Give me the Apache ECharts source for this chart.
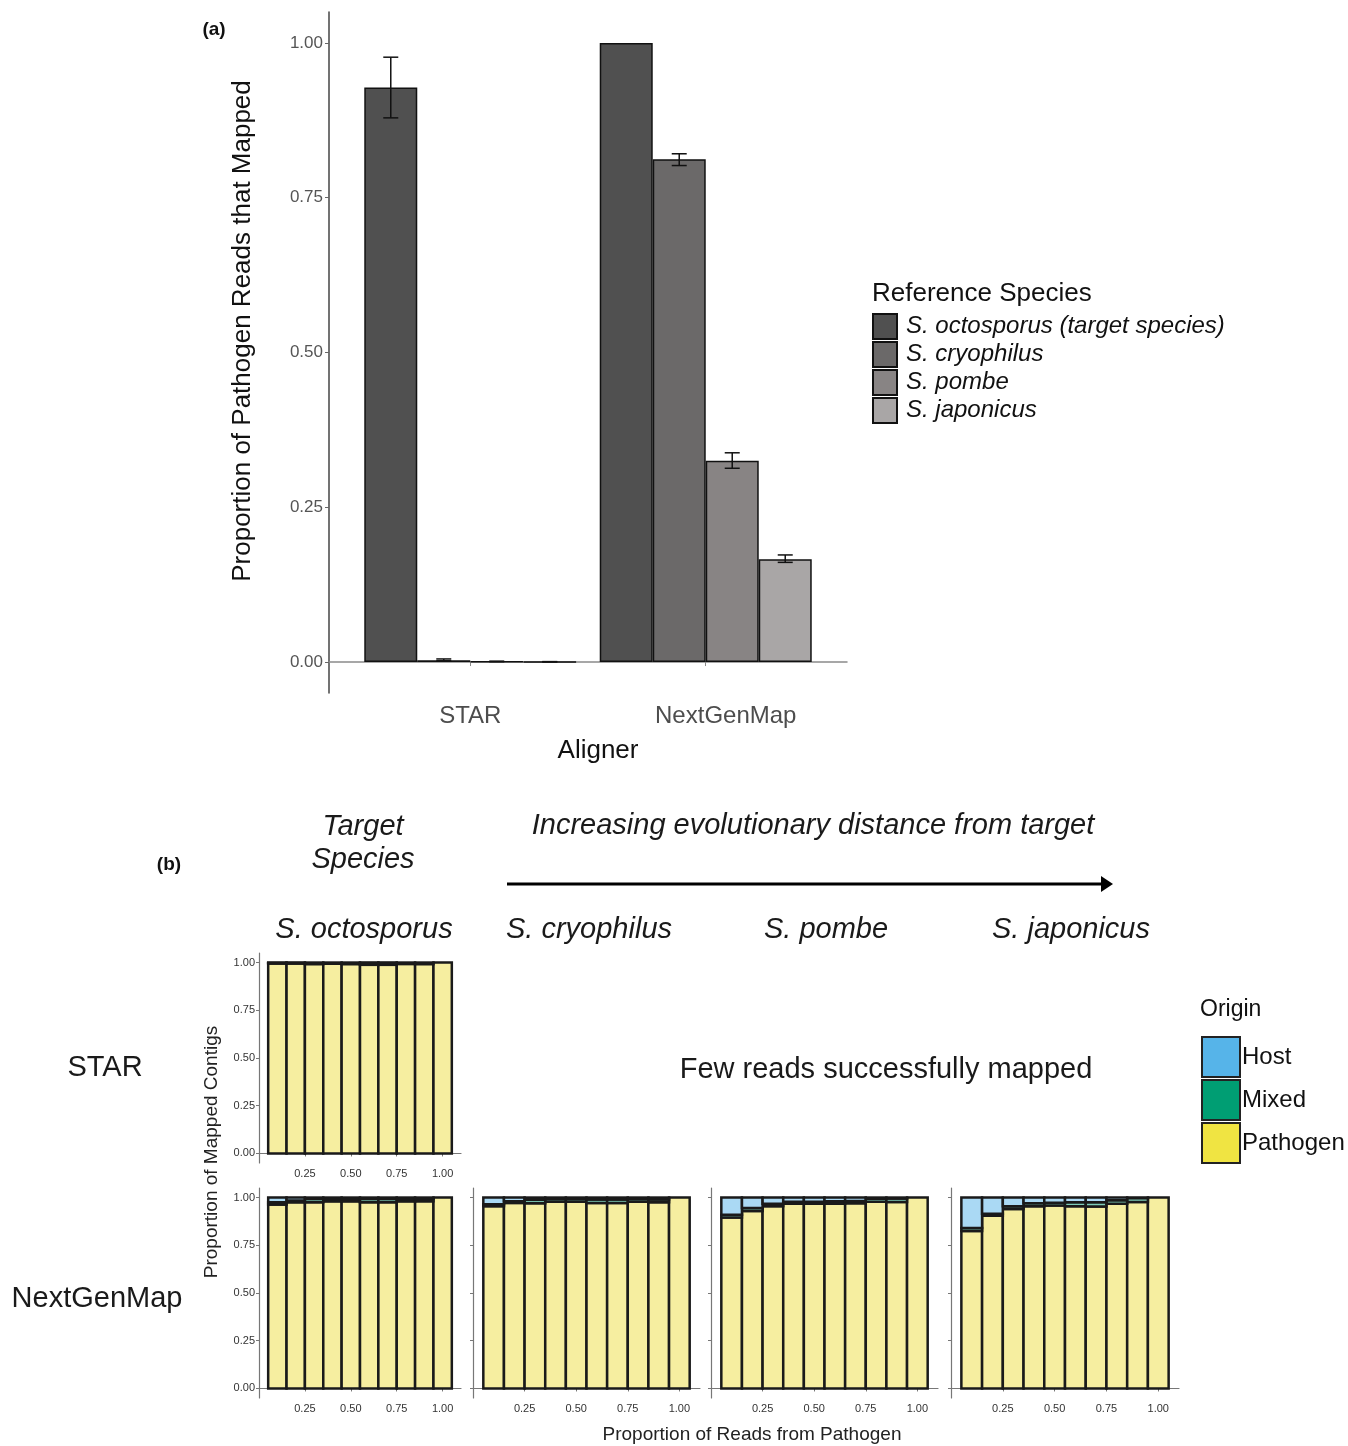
<!DOCTYPE html>
<html>
<head>
<meta charset="utf-8">
<title>Mapped reads by aligner and reference species</title>
<script src="https://cdn.jsdelivr.net/npm/echarts@6/dist/echarts.min.js"></script>
<style>
  body { margin: 0; background: #fff; }
  #chart { width: 1348px; height: 1446px; }
</style>
</head>
<body>
<div id="chart"></div>
<script>
// (a) proportion of pathogen reads that mapped
const aligners = ['STAR', 'NextGenMap'];
const species = ['S. octosporus (target species)', 'S. cryophilus', 'S. pombe', 'S. japonicus'];
const starMean = [0.928, 0.003, 0.001, 0.0005];
const starLow = [0.879, 0.002, 0.0006, 0.0003];
const starHigh = [0.977, 0.005, 0.0014, 0.0007];
const ngmMean = [1.0, 0.812, 0.325, 0.166];
const ngmLow = [1.0, 0.802, 0.313, 0.161];
const ngmHigh = [1.0, 0.821, 0.338, 0.173];
const yTicksA = [0, 0.25, 0.5, 0.75, 1];

// (b) origin of mapped contigs
const readProps = [0.1, 0.2, 0.3, 0.4, 0.5, 0.6, 0.7, 0.8, 0.9, 1.0];
const xTicksB = [0.25, 0.5, 0.75, 1];
const yTicksB = [0, 0.25, 0.5, 0.75, 1];
const origins = ['Host', 'Mixed', 'Pathogen'];

const starOctoPath = [0.995, 0.995, 0.992, 0.994, 0.992, 0.988, 0.988, 0.993, 0.992, 1.0];
const starOctoMixed = [0.003, 0.003, 0.008, 0.006, 0.008, 0.010, 0.010, 0.007, 0.008, 0];
const starOctoHost = [0.002, 0.002, 0, 0, 0, 0.002, 0.002, 0, 0, 0];

const ngmOctoPath = [0.963, 0.975, 0.975, 0.980, 0.980, 0.975, 0.975, 0.980, 0.980, 1.0];
const ngmOctoMixed = [0.012, 0.010, 0.018, 0.012, 0.012, 0.018, 0.018, 0.012, 0.014, 0];
const ngmOctoHost = [0.025, 0.015, 0.007, 0.008, 0.008, 0.007, 0.007, 0.008, 0.006, 0];

const ngmCryoPath = [0.955, 0.972, 0.970, 0.978, 0.978, 0.972, 0.972, 0.978, 0.975, 1.0];
const ngmCryoMixed = [0.010, 0.008, 0.018, 0.015, 0.015, 0.018, 0.018, 0.015, 0.015, 0];
const ngmCryoHost = [0.035, 0.020, 0.012, 0.007, 0.007, 0.010, 0.010, 0.007, 0.010, 0];

const ngmPombePath = [0.895, 0.930, 0.955, 0.968, 0.968, 0.968, 0.970, 0.978, 0.977, 1.0];
const ngmPombeMixed = [0.015, 0.015, 0.012, 0.010, 0.010, 0.012, 0.012, 0.016, 0.018, 0];
const ngmPombeHost = [0.090, 0.055, 0.033, 0.022, 0.022, 0.020, 0.018, 0.006, 0.005, 0];

const ngmJapPath = [0.825, 0.905, 0.940, 0.955, 0.958, 0.955, 0.953, 0.968, 0.977, 1.0];
const ngmJapMixed = [0.015, 0.010, 0.015, 0.015, 0.015, 0.020, 0.022, 0.018, 0.020, 0];
const ngmJapHost = [0.160, 0.085, 0.045, 0.030, 0.027, 0.025, 0.025, 0.014, 0.003, 0];

const speciesColors = ['#505050', '#6b6969', '#888484', '#a9a6a6'];
const originColors = { Host: '#56B4E9', Mixed: '#009E73', Pathogen: '#F0E442' };
const originFill = { Host: '#AAD9F4', Mixed: '#7FCEB9', Pathogen: '#F6EEA0' };

const FONT = '"Liberation Sans", Arial, Helvetica, sans-serif';
const BAR_A = 53;

// small panels of (b): grid rectangles + the arrays drawn in each
const panels = [
  { left: 259, top: 953, width: 202, labels: true, path: starOctoPath, mixed: starOctoMixed, host: starOctoHost },
  { left: 259, top: 1188, width: 202, labels: true, path: ngmOctoPath, mixed: ngmOctoMixed, host: ngmOctoHost },
  { left: 473, top: 1188, width: 227, labels: false, path: ngmCryoPath, mixed: ngmCryoMixed, host: ngmCryoHost },
  { left: 711, top: 1188, width: 227, labels: false, path: ngmPombePath, mixed: ngmPombeMixed, host: ngmPombeHost },
  { left: 951, top: 1188, width: 228, labels: false, path: ngmJapPath, mixed: ngmJapMixed, host: ngmJapHost }
];

const grids = [{ left: 329, top: 12, width: 518, height: 681, outerBoundsMode: 'none' }];
const xAxes = [{
  type: 'value', gridIndex: 0, min: 0.4, max: 2.6,
  splitLine: { show: false },
  axisLine: { lineStyle: { color: '#8a8a8a', width: 1.5 } },
  axisTick: { customValues: [1, 2], length: 4, lineStyle: { color: '#8a8a8a' } },
  axisLabel: {
    customValues: [1, 2], margin: 11, fontSize: 24, fontFamily: FONT, color: '#4d4d4d',
    formatter: v => v === 2 ? '{n|' + aligners[1] + '}' : aligners[0],
    rich: { n: { fontSize: 24, fontFamily: FONT, color: '#4d4d4d', padding: [0, 0, 6, 40] } }
  }
}];
const yAxes = [{
  type: 'value', gridIndex: 0, min: -0.05, max: 1.05,
  splitLine: { show: false },
  axisLine: { show: true, lineStyle: { color: '#444', width: 1.5 } },
  axisTick: { show: true, customValues: yTicksA, length: 4, lineStyle: { color: '#666' } },
  axisLabel: { customValues: yTicksA, margin: 6, fontSize: 17, fontFamily: FONT, color: '#555', formatter: v => v.toFixed(2) }
}];

panels.forEach((p, i) => {
  grids.push({ left: p.left, top: p.top, width: p.width, height: 210, outerBoundsMode: 'none' });
  xAxes.push({
    type: 'value', gridIndex: i + 1, min: 0, max: 1.1,
    splitLine: { show: false },
    axisLine: { lineStyle: { color: '#777', width: 1.2 } },
    axisTick: { customValues: xTicksB, length: 3, lineStyle: { color: '#777' } },
    axisLabel: { customValues: xTicksB, margin: 5, fontSize: 11, fontFamily: FONT, color: '#333', formatter: v => v.toFixed(2) }
  });
  yAxes.push({
    type: 'value', gridIndex: i + 1, min: -0.05, max: 1.05,
    splitLine: { show: false },
    axisLine: { show: true, lineStyle: { color: '#777', width: 1.2 } },
    axisTick: { show: true, customValues: yTicksB, length: 3, lineStyle: { color: '#777' } },
    axisLabel: { show: p.labels, customValues: yTicksB, margin: 4, fontSize: 11, fontFamily: FONT, color: '#333', formatter: v => v.toFixed(2) }
  });
});

const series = [];

// 柱状图 (a)
species.forEach((s, k) => {
  series.push({
    name: s, type: 'bar', xAxisIndex: 0, yAxisIndex: 0,
    barWidth: BAR_A, barGap: '0%',
    data: [[1, starMean[k]], [2, ngmMean[k]]],
    itemStyle: { color: speciesColors[k], borderColor: '#111', borderWidth: 1.5 }
  });
});

// error bars for (a)
const errData = [];
species.forEach((s, k) => {
  errData.push([1, starLow[k], starHigh[k], k]);
  if (ngmHigh[k] > ngmLow[k]) errData.push([2, ngmLow[k], ngmHigh[k], k]);
});
series.push({
  name: 'error', type: 'custom', xAxisIndex: 0, yAxisIndex: 0, z: 5,
  data: errData,
  renderItem(params, api) {
    const lo = api.coord([api.value(0), api.value(1)]);
    const hi = api.coord([api.value(0), api.value(2)]);
    const cx = lo[0] + (api.value(3) - 1.5) * BAR_A;
    const cap = 7.5;
    const st = { stroke: '#111', lineWidth: 1.5 };
    return {
      type: 'group',
      children: [
        { type: 'line', shape: { x1: cx, y1: lo[1], x2: cx, y2: hi[1] }, style: st },
        { type: 'line', shape: { x1: cx - cap, y1: lo[1], x2: cx + cap, y2: lo[1] }, style: st },
        { type: 'line', shape: { x1: cx - cap, y1: hi[1], x2: cx + cap, y2: hi[1] }, style: st }
      ]
    };
  }
});

// stacked bars for (b): one custom series per origin segment, stacked Pathogen -> Mixed -> Host
function stackedSegment(seg, fill) {
  return function (params, api) {
    const x = api.value(0);
    const p = api.value(1), m = api.value(2), h = api.value(3);
    const lows = [0, p, p + m];
    const highs = [p, p + m, p + m + h];
    if (highs[seg] - lows[seg] <= 0) return null;
    const w = api.size([0.1, 0])[0];
    const top = api.coord([x, highs[seg]]);
    const bot = api.coord([x, lows[seg]]);
    return {
      type: 'rect',
      shape: { x: top[0] - w / 2, y: top[1], width: w, height: bot[1] - top[1] },
      style: { fill: fill, stroke: '#1a1a1a', lineWidth: 2.5 }
    };
  };
}
panels.forEach((p, i) => {
  const data = readProps.map((x, j) => [x, p.path[j], p.mixed[j], p.host[j]]);
  ['Pathogen', 'Mixed', 'Host'].forEach((name, seg) => {
    series.push({
      name: name, type: 'custom', xAxisIndex: i + 1, yAxisIndex: i + 1,
      data: data,
      itemStyle: { color: originColors[name] },
      renderItem: stackedSegment(seg, originFill[name])
    });
  });
});

const italic = { fontStyle: 'italic', fontFamily: FONT, fontSize: 29, fill: '#1a1a1a', align: 'center', verticalAlign: 'middle' };
const plain = { fontFamily: FONT, fontSize: 29, fill: '#1a1a1a', align: 'center', verticalAlign: 'middle' };
function txt(x, y, text, style) {
  return { type: 'text', x: x, y: y, style: Object.assign({}, style, { text: text }) };
}

const option = {
  animation: false,
  backgroundColor: '#fff',
  grid: grids,
  xAxis: xAxes,
  yAxis: yAxes,
  legend: [
    {
      data: species, orient: 'vertical', left: 872, top: 313, padding: 0,
      itemWidth: 24, itemHeight: 25, itemGap: 1, icon: 'rect', selectedMode: false,
      textStyle: { fontStyle: 'italic', fontSize: 24, fontFamily: FONT, color: '#111', padding: [0, 0, 0, 4] }
    },
    {
      data: origins.map(n => ({ name: n, itemStyle: { color: originColors[n], borderColor: '#222', borderWidth: 2 } })),
      orient: 'vertical', left: 1201, top: 1036, padding: 0,
      itemWidth: 38, itemHeight: 40, itemGap: 1, icon: 'rect', selectedMode: false,
      textStyle: { fontSize: 24, fontFamily: FONT, color: '#111', padding: [0, 0, 0, -3] }
    }
  ],
  graphic: [
    txt(214, 30, '(a)', { fontFamily: FONT, fontSize: 19, fontWeight: 'bold', fill: '#111', align: 'center', verticalAlign: 'middle' }),
    txt(169, 865, '(b)', { fontFamily: FONT, fontSize: 19, fontWeight: 'bold', fill: '#111', align: 'center', verticalAlign: 'middle' }),
    {
      type: 'text', x: 243, y: 331, rotation: Math.PI / 2,
      style: { text: 'Proportion of Pathogen Reads that Mapped', fontFamily: FONT, fontSize: 26, fill: '#111', align: 'center', verticalAlign: 'middle' }
    },
    txt(598, 751, 'Aligner', { fontFamily: FONT, fontSize: 26, fill: '#111', align: 'center', verticalAlign: 'middle' }),
    txt(872, 294, 'Reference Species', { fontFamily: FONT, fontSize: 26, fill: '#111', align: 'left', verticalAlign: 'middle' }),
    txt(363, 827, 'Target', italic),
    txt(363, 860, 'Species', italic),
    txt(813, 826, 'Increasing evolutionary distance from target', italic),
    { type: 'line', shape: { x1: 507, y1: 884, x2: 1103, y2: 884 }, style: { stroke: '#000', lineWidth: 3 } },
    { type: 'polygon', shape: { points: [[1101, 876], [1113, 884], [1101, 892]] }, style: { fill: '#000' } },
    txt(364, 930, 'S. octosporus', italic),
    txt(589, 930, 'S. cryophilus', italic),
    txt(826, 930, 'S. pombe', italic),
    txt(1071, 930, 'S. japonicus', italic),
    txt(105, 1068, 'STAR', plain),
    txt(97, 1299, 'NextGenMap', plain),
    txt(886, 1070, 'Few reads successfully mapped', plain),
    txt(1200, 1010, 'Origin', { fontFamily: FONT, fontSize: 23, fill: '#111', align: 'left', verticalAlign: 'middle' }),
    {
      type: 'text', x: 212, y: 1152, rotation: Math.PI / 2,
      style: { text: 'Proportion of Mapped Contigs', fontFamily: FONT, fontSize: 19, fill: '#222', align: 'center', verticalAlign: 'middle' }
    },
    txt(752, 1435, 'Proportion of Reads from Pathogen', { fontFamily: FONT, fontSize: 19, fill: '#222', align: 'center', verticalAlign: 'middle' })
  ],
  series: series
};

let chartDom = document.getElementById('chart');
let chart = echarts.init(chartDom);
chart.setOption(option);
</script>
</body>
</html>
